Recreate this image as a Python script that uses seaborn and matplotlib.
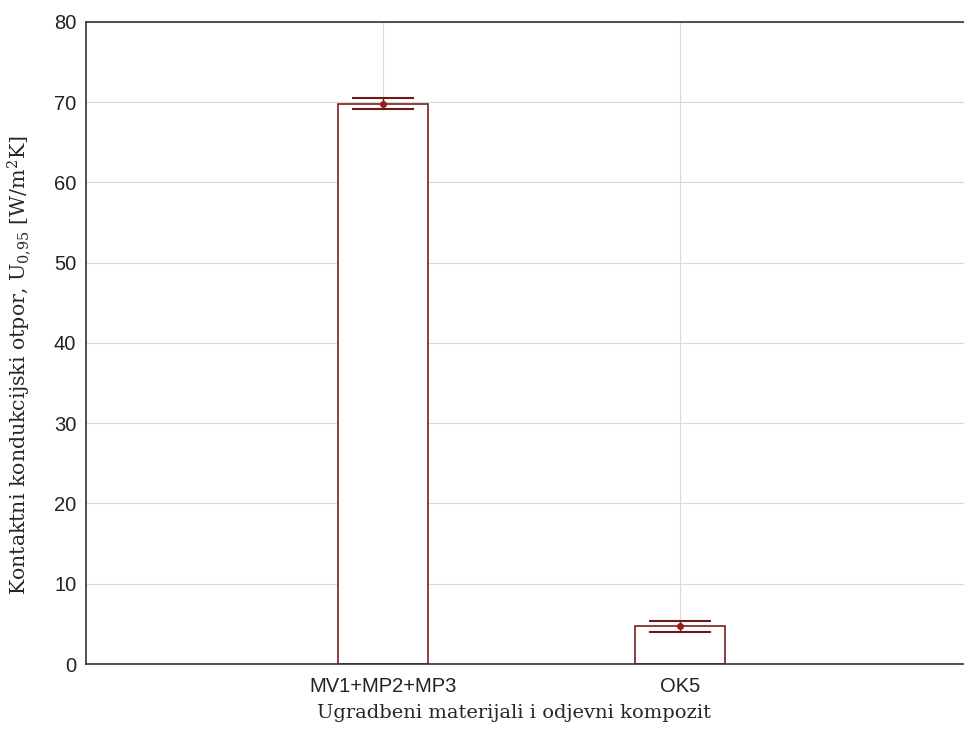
import matplotlib
matplotlib.use("Agg")
import matplotlib.pyplot as plt
import seaborn as sns
import pandas as pd

# Podaci ocitani s grafa
categories = ["MV1+MP2+MP3", "OK5"]
means = [69.8, 4.7]
ci_half = [0.7, 0.72]
y_ticks = [0, 10, 20, 30, 40, 50, 60, 70, 80]

sns.set_style("white")
plt.rcParams['font.family'] = ['Liberation Sans', 'DejaVu Sans']
plt.rcParams['mathtext.fontset'] = 'dejavuserif'

fig = plt.figure(figsize=(9.64, 7.4), dpi=100)
ax = fig.add_axes([0.0892, 0.1027, 0.9243, 0.8676])

df = pd.DataFrame({"material": categories, "U": means})
sns.barplot(data=df, x="material", y="U", errorbar=None, width=0.3,
            color="white", saturation=1, edgecolor="#7a1f1f", linewidth=1.2, ax=ax)
ax.errorbar(x=list(range(len(categories))), y=means, yerr=ci_half, fmt="o", ms=4,
            color="#9b1c1c", ecolor="#6e1a1a", capsize=22, capthick=1.5, elinewidth=1)

ax.set_xlim(-1, 2)
ax.set_ylim(0, 80)
ax.set_yticks(y_ticks)
ax.grid(True, color="#d9d9d9", lw=0.8)
ax.set_axisbelow(True)
ax.tick_params(direction="in", length=4, labelsize=14.5, colors="#222222")
ax.tick_params(axis="x", pad=9)
ax.tick_params(axis="y", pad=7)
for s in ax.spines.values():
    s.set_color("#333333")
    s.set_linewidth(1.2)

ax.set_xlabel("Ugradbeni materijali i odjevni kompozit", family="DejaVu Serif",
              fontsize=14)
ax.xaxis.set_label_coords(0.48, -0.062)
ax.set_ylabel("Kontaktni kondukcijski otpor, U$_{0{,}95}$ [W/m$^2$K]",
              family="DejaVu Serif", fontsize=14.8)
ax.yaxis.set_label_coords(-0.06, 0.465)

plt.savefig("out.png", dpi=100)
